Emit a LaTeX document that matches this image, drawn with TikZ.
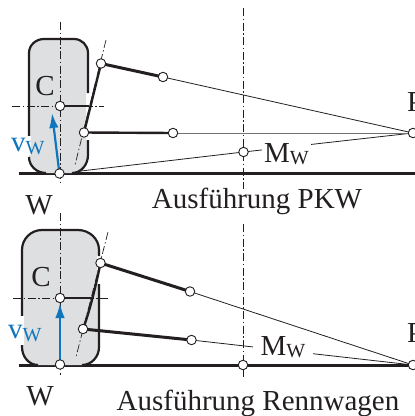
\documentclass[tikz,border=0pt]{standalone}
\usepackage{fontspec}
\setmainfont{Liberation Serif}
\definecolor{ink}{HTML}{231F20}
\definecolor{tyre}{HTML}{DEDFE1}
\definecolor{vblue}{HTML}{0F75BC}
\usetikzlibrary{arrows.meta}
\tikzset{
  joint/.style={circle,draw=ink,fill=white,line width=0.9pt,inner sep=0pt,minimum size=#1},
  joint/.default=9.5pt,
  txt/.style={inner sep=0pt,text=ink,font=\fontsize{29}{30}\selectfont},
  arm/.style={draw=ink,line width=2.4pt},
  armheavy/.style={draw=ink,line width=3pt},
  thin ray/.style={draw=ink,line width=0.8pt},
  grey ray/.style={draw=black!55,line width=1pt},
  axis/.style={draw=ink,line width=0.7pt,dash pattern=on 8pt off 2.5pt on 1.5pt off 2.5pt},
  ground/.style={draw=ink,line width=3pt},
  rim/.style={draw=ink,line width=2.2pt},
  vec/.style={draw=vblue,line width=2.2pt,-{Latex[length=15pt,width=9.5pt]}},
}
\begin{document}
\begin{tikzpicture}[x=1pt,y=-1pt]
\useasboundingbox (0,0) rectangle (415,416);
\clip (0,0) rectangle (415,416);

% ---------- upper: Ausfuehrung PKW
\coordinate (aWa) at (59.5,173.5);
\coordinate (aPa) at (413,133);
\coordinate (aMa) at (243.5,152);
\coordinate (aUa) at (101,63.5);
\coordinate (aUb) at (163,77);
\coordinate (aLa) at (84,132.5);
\coordinate (aLb) at (173,133);
\coordinate (aCa) at (60,106);

\draw[thin ray] (aWa) -- (aMa) -- (aPa);
\draw[grey ray] (aLb) -- (aPa);
\draw[thin ray] (aUb) -- (aPa);
\draw[ground] (19,173.5) -- (415,173.5);

\fill[tyre] (41,39) -- (77,39) to[out=0,in=90] (88,53) -- (88,93) -- (86,93) -- (86,140) -- (88,140) -- (88,155) to[out=-90,in=0] (72,173) -- (46,173) to[out=180,in=-90] (29,157) -- (29,53) to[out=90,in=180] (41,39) -- cycle;
\draw[rim] (29,136) -- (29,53) to[out=90,in=180] (44,39) -- (74,39) to[out=0,in=90] (88,53) -- (88,93);
\draw[rim] (88,140) -- (88,155) to[out=-90,in=0] (72,173);
\draw[rim] (29,157) to[out=-90,in=180] (46,173);
\fill[white] (26,136) rectangle (31,155);

\draw[axis] (60,22) -- (60,183);
\draw[axis] (12,106) -- (104,106);
\draw[axis] (106,40) -- (75,165);
\draw[axis] (243.5,8) -- (243.5,189);

\draw[arm] (aCa) -- (89,106);
\draw[arm] (aUa) -- (aLa);
\draw[armheavy] (aUa) -- (aUb);
\draw[arm] (aLa) -- (aLb);
\draw[vec] (59,170) -- (52,113);

\node[txt,fill=white,inner xsep=2pt,inner ysep=0pt,anchor=west] (aMl) at (262,154) {M\raisebox{-2pt}{\fontsize{20}{20}\selectfont W}};
\foreach \n in {aCa,aUa,aUb,aLa,aLb,aMa,aPa,aWa} \node[joint] (j\n) at (\n) {};
\node[txt] (aC) at (45,86) {C};
\node[txt,text=vblue,anchor=west] (aV) at (11,146) {v\raisebox{-3pt}{\fontsize{20}{20}\selectfont W}};
\node[txt] (aW) at (39,205) {W};
\node[txt] (aT) at (257,201) {Ausführung PKW};
\node[txt,anchor=west] (aP) at (407,102) {P};

% ---------- lower: Ausfuehrung Rennwagen
\coordinate (bWa) at (60,364.5);
\coordinate (bPa) at (413,365);
\coordinate (bMa) at (243,365);
\coordinate (bUa) at (100.5,263);
\coordinate (bUb) at (190,291.5);
\coordinate (bLa) at (83,329);
\coordinate (bLb) at (191.5,340);
\coordinate (bCa) at (60,298);

\draw[thin ray] (bUb) -- (bPa);
\draw[thin ray] (bLb) -- (bPa);
\draw[ground] (19,365) -- (415,365);

\fill[tyre] (40,230) -- (80,230) to[out=0,in=90] (99,250) -- (99,255) -- (97,255) -- (97,284) -- (99,284) -- (99,347) to[out=-90,in=0] (82,365) -- (38,365) to[out=180,in=-90] (22,347) -- (22,250) to[out=90,in=180] (40,230) -- cycle;
\draw[rim] (22,316) -- (22,250) to[out=90,in=180] (42,230) -- (78,230) to[out=0,in=90] (99,250) -- (99,256);
\draw[rim] (99,284) -- (99,347) to[out=-90,in=0] (82,365);
\draw[rim] (22,345) -- (22,347) to[out=-90,in=180] (38,365);
\fill[white] (19,316) rectangle (24,345);

\draw[axis] (60,213) -- (60,375);
\draw[axis] (13,298) -- (109,298);
\draw[axis] (108,232) -- (76,357);
\draw[axis] (243,224) -- (243,379);

\draw[arm] (bCa) -- (92,298);
\draw[arm] (bUa) .. controls (96,285) and (90,310) .. (bLa);
\draw[armheavy] (bUa) -- (bUb);
\draw[armheavy] (bLa) -- (bLb);
\draw[vec] (60,360) -- (60,303);

\node[txt,fill=white,inner xsep=0pt,inner ysep=0pt,minimum width=60pt,anchor=center] (bMl) at (283,347) {M\raisebox{-2pt}{\fontsize{20}{20}\selectfont W}};
\foreach \n in {bCa,bUa,bUb,bLa,bLb,bMa,bPa,bWa} \node[joint] (j\n) at (\n) {};
\node[txt] (bC) at (41,277) {C};
\node[txt,text=vblue,anchor=west] (bV) at (8,333) {v\raisebox{-3pt}{\fontsize{20}{20}\selectfont W}};
\node[txt] (bW) at (40,396) {W};
\node[txt] (bT) at (258,403) {Ausführung Rennwagen};
\node[txt,anchor=west] (bP) at (407,333) {P};
\end{tikzpicture}
\end{document}
